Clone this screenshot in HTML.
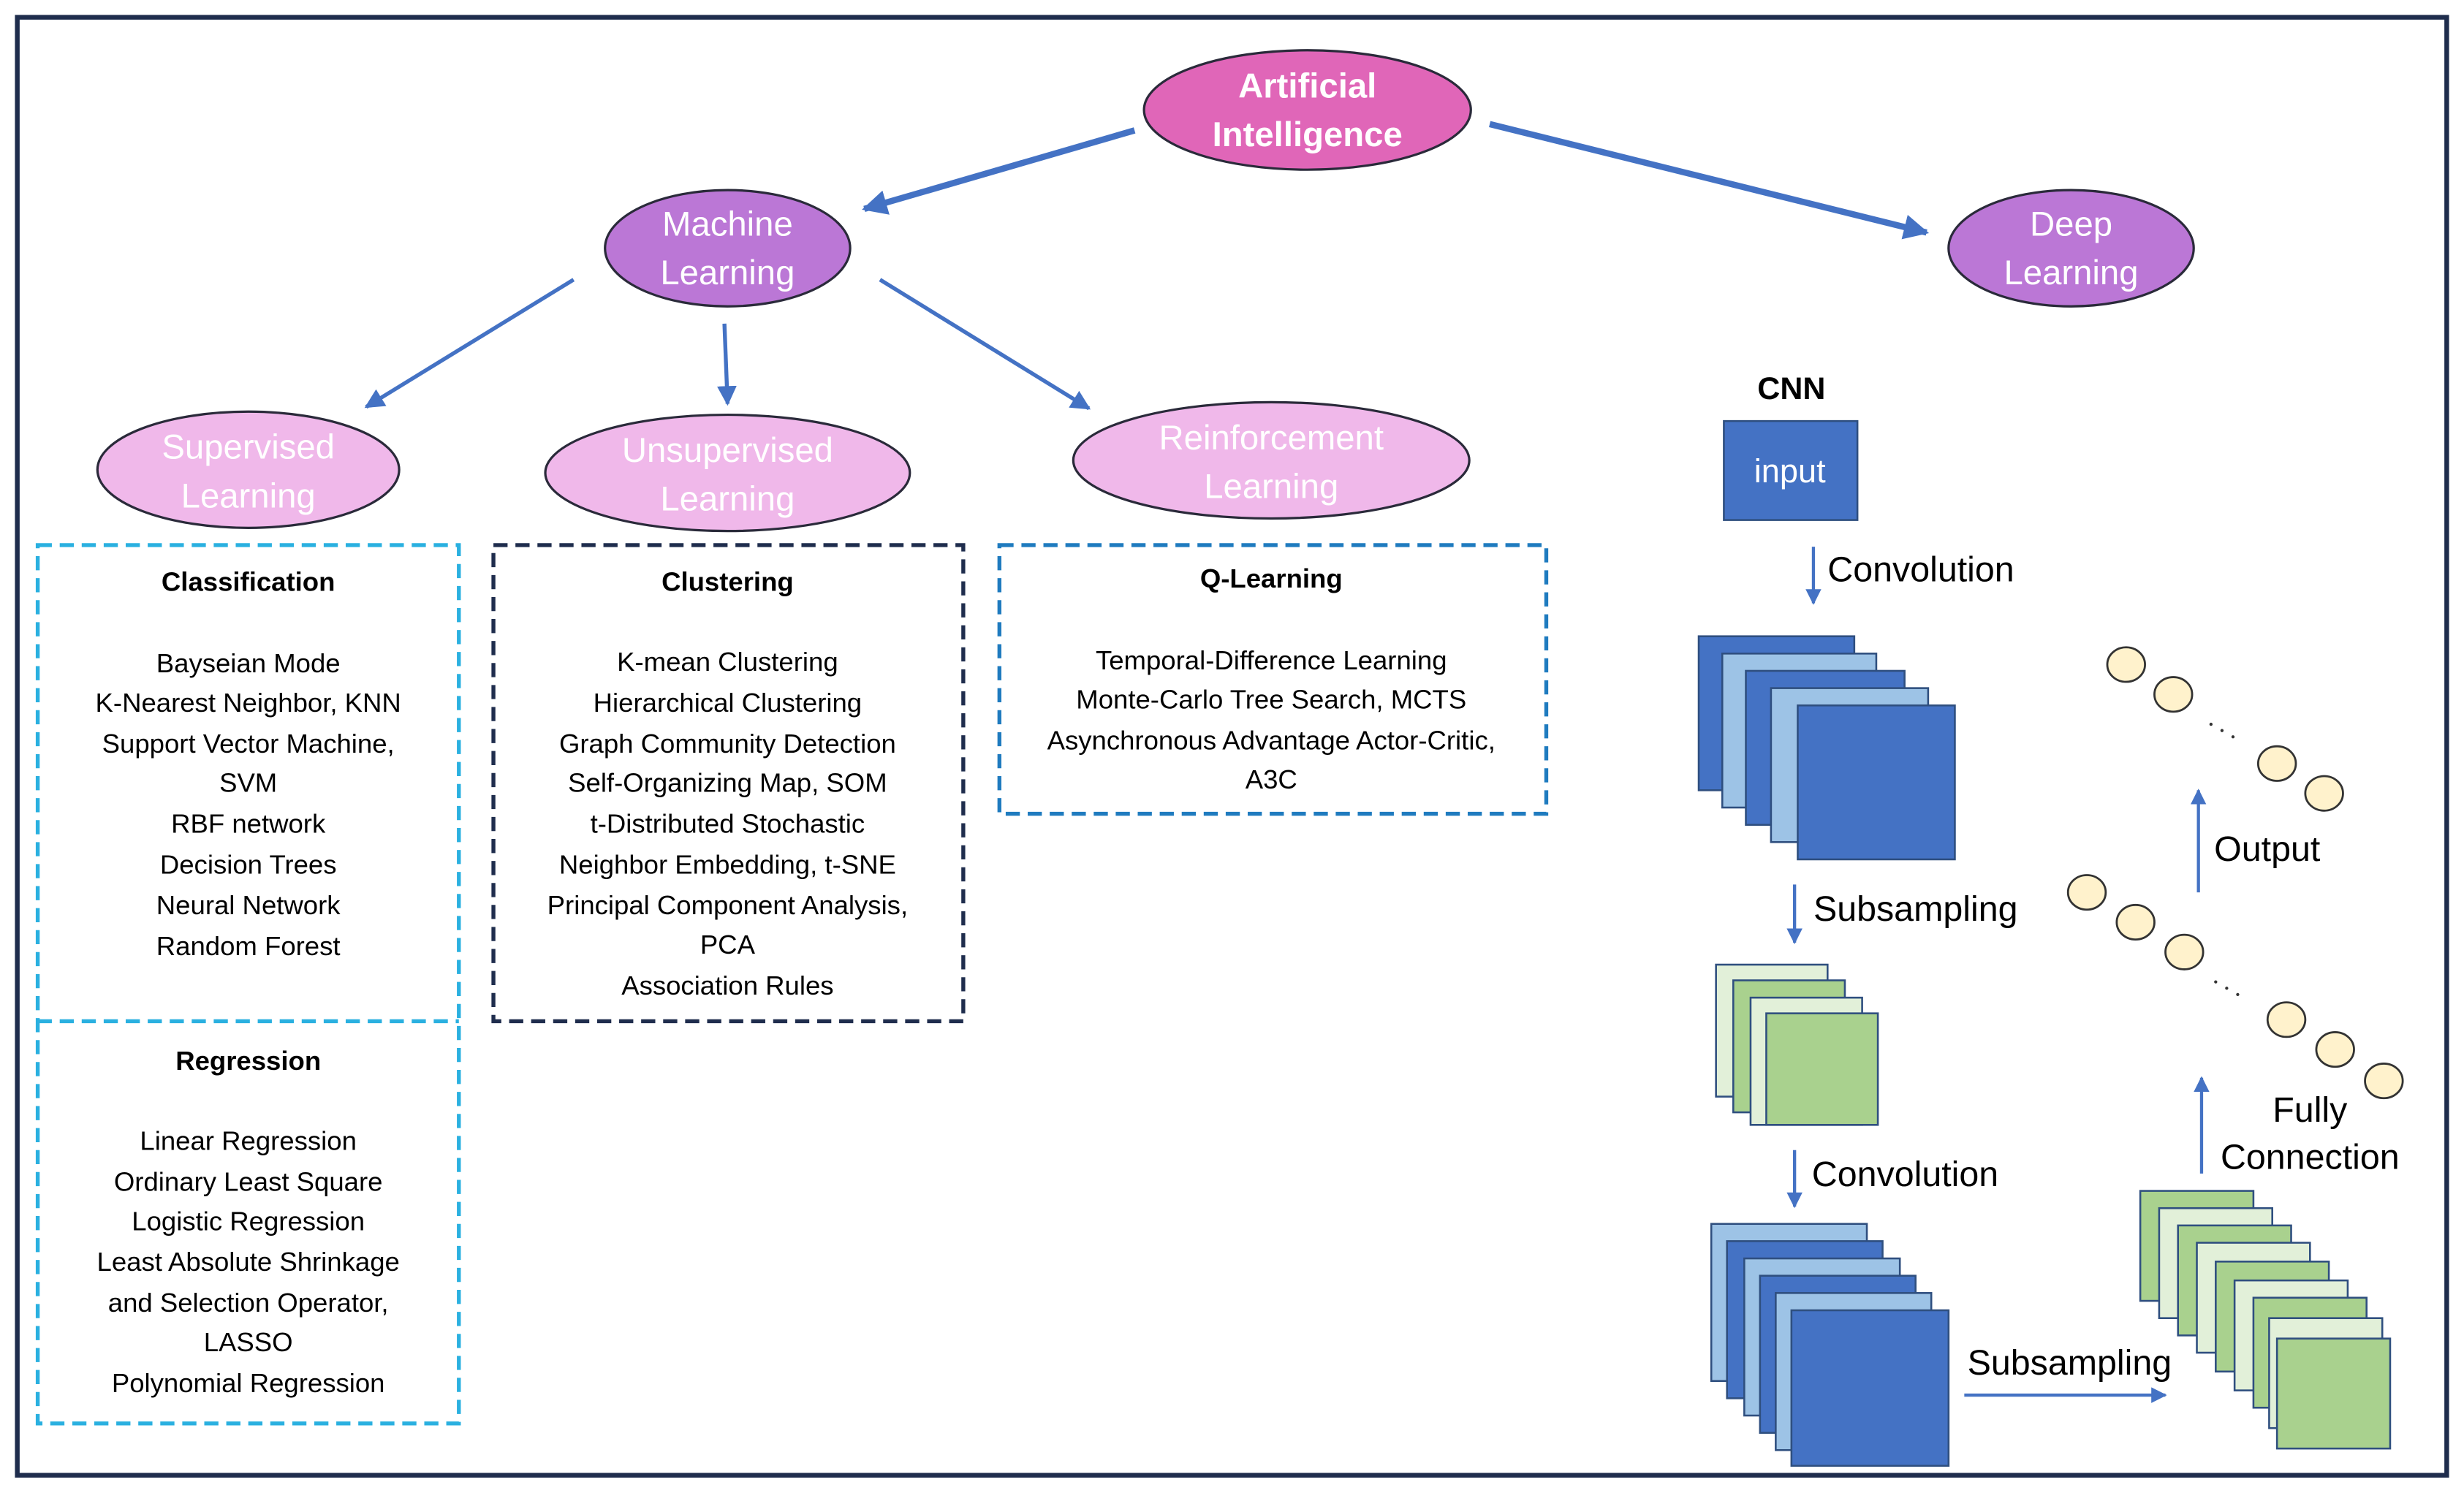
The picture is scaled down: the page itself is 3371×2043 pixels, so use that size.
<!DOCTYPE html>
<html><head><meta charset="utf-8"><style>
html,body{margin:0;padding:0;background:#fff}
svg{display:block}
text{font-family:"Liberation Sans",sans-serif}
</style></head><body>
<svg width="3371" height="2043" viewBox="0 0 1568 950.3" preserveAspectRatio="none" xmlns="http://www.w3.org/2000/svg">
<defs>
<marker id="ah" viewBox="0 0 10 10" refX="9" refY="5" markerWidth="4" markerHeight="4" orient="auto"><path d="M0,0L10,5L0,10z" fill="#4472c4"/></marker>
<marker id="as" viewBox="0 0 10 10" refX="9" refY="5" markerWidth="5" markerHeight="5" orient="auto"><path d="M0,0L10,5L0,10z" fill="#4472c4"/></marker>
</defs>
<rect x="0" y="0" width="1568" height="950.3" fill="#fff"/>
<rect x="11" y="11" width="1546" height="928" fill="none" stroke="#1f2d4d" stroke-width="3"/>

<g stroke="#4472c4" fill="none">
<line x1="722" y1="83" x2="550" y2="133" stroke-width="4" marker-end="url(#ah)"/>
<line x1="948" y1="79" x2="1226" y2="148" stroke-width="4" marker-end="url(#ah)"/>
<line x1="365" y1="178" x2="233" y2="259" stroke-width="2.5" marker-end="url(#as)"/>
<line x1="461" y1="206" x2="463" y2="257" stroke-width="2.5" marker-end="url(#as)"/>
<line x1="560" y1="178" x2="693" y2="260" stroke-width="2.5" marker-end="url(#as)"/>
</g>

<g stroke="#2a2a3a" stroke-width="1.5">
<ellipse cx="832" cy="70" rx="104" ry="38" fill="#e066b8"/>
<ellipse cx="463" cy="158" rx="78" ry="37" fill="#bb77d6"/>
<ellipse cx="1318" cy="158" rx="78" ry="37" fill="#bb77d6"/>
<ellipse cx="158" cy="299" rx="96" ry="37" fill="#f0b8ea"/>
<ellipse cx="463" cy="301" rx="116" ry="37" fill="#f0b8ea"/>
<ellipse cx="809" cy="293" rx="126" ry="37" fill="#f0b8ea"/>
</g>
<g fill="#fff" font-size="22" text-anchor="middle">
<text x="832" y="62" font-weight="bold">Artificial</text>
<text x="832" y="93" font-weight="bold">Intelligence</text>
<text x="463" y="150">Machine</text><text x="463" y="181">Learning</text>
<text x="1318" y="150">Deep</text><text x="1318" y="181">Learning</text>
<text x="158" y="292">Supervised</text><text x="158" y="323">Learning</text>
<text x="463" y="294">Unsupervised</text><text x="463" y="325">Learning</text>
<text x="809" y="286">Reinforcement</text><text x="809" y="317">Learning</text>
</g>

<g fill="none" stroke-width="2.5" stroke-dasharray="9,5">
<rect x="24" y="347" width="268" height="559" stroke="#2ab0e0"/>
<line x1="24" y1="650" x2="292" y2="650" stroke="#2ab0e0"/>
<rect x="314" y="347" width="299" height="303" stroke="#1f2d4d"/>
<rect x="636" y="347" width="348" height="171" stroke="#1f7bbf"/>
</g>
<g font-size="17" text-anchor="middle" fill="#000">
<text x="158" y="376" font-weight="bold">Classification</text>
<text x="158" y="428">Bayseian Mode</text>
<text x="158" y="453">K-Nearest Neighbor, KNN</text>
<text x="158" y="479">Support Vector Machine,</text>
<text x="158" y="504">SVM</text>
<text x="158" y="530">RBF network</text>
<text x="158" y="556">Decision Trees</text>
<text x="158" y="582">Neural Network</text>
<text x="158" y="608">Random Forest</text>
<text x="158" y="681" font-weight="bold">Regression</text>
<text x="158" y="732">Linear Regression</text>
<text x="158" y="758">Ordinary Least Square</text>
<text x="158" y="783">Logistic Regression</text>
<text x="158" y="809">Least Absolute Shrinkage</text>
<text x="158" y="835">and Selection Operator,</text>
<text x="158" y="860">LASSO</text>
<text x="158" y="886">Polynomial Regression</text>

<text x="463" y="376" font-weight="bold">Clustering</text>
<text x="463" y="427">K-mean Clustering</text>
<text x="463" y="453">Hierarchical Clustering</text>
<text x="463" y="479">Graph Community Detection</text>
<text x="463" y="504">Self-Organizing Map, SOM</text>
<text x="463" y="530">t-Distributed Stochastic</text>
<text x="463" y="556">Neighbor Embedding, t-SNE</text>
<text x="463" y="582">Principal Component Analysis,</text>
<text x="463" y="607">PCA</text>
<text x="463" y="633">Association Rules</text>

<text x="809" y="374" font-weight="bold">Q-Learning</text>
<text x="809" y="426">Temporal-Difference Learning</text>
<text x="809" y="451">Monte-Carlo Tree Search, MCTS</text>
<text x="809" y="477">Asynchronous  Advantage Actor-Critic,</text>
<text x="809" y="502">A3C</text>
</g>

<text x="1140" y="254" font-size="20" font-weight="bold" text-anchor="middle">CNN</text>
<rect x="1097" y="268" width="85" height="63" fill="#4472c4" stroke="#2f4f7f" stroke-width="1.2"/>
<text x="1139" y="307" font-size="21" fill="#fff" text-anchor="middle">input</text>

<g stroke="#4472c4" stroke-width="2" fill="none">
<line x1="1154" y1="348" x2="1154" y2="384" marker-end="url(#as)"/>
<line x1="1142" y1="563" x2="1142" y2="600" marker-end="url(#as)"/>
<line x1="1142" y1="732" x2="1142" y2="768" marker-end="url(#as)"/>
<line x1="1250" y1="888" x2="1378" y2="888" marker-end="url(#as)"/>
<line x1="1401" y1="747" x2="1401" y2="686" marker-end="url(#as)"/>
<line x1="1399" y1="568" x2="1399" y2="503" marker-end="url(#as)"/>
</g>
<g font-size="22.5" fill="#000">
<text x="1163" y="370">Convolution</text>
<text x="1154" y="586">Subsampling</text>
<text x="1153" y="755">Convolution</text>
<text x="1252" y="875">Subsampling</text>
<text x="1409" y="548">Output</text>
<text x="1470" y="714" text-anchor="middle">Fully</text>
<text x="1470" y="744" text-anchor="middle">Connection</text>
</g>

<g stroke="#2f4f7f" stroke-width="1.2">
<rect x="1081" y="405" width="99" height="98" fill="#4472c4"/>
<rect x="1096" y="416" width="98" height="98" fill="#9dc3e6"/>
<rect x="1111" y="427" width="101" height="98" fill="#4472c4"/>
<rect x="1127" y="438" width="100" height="98" fill="#9dc3e6"/>
<rect x="1144" y="449" width="100" height="98" fill="#4472c4"/>

<rect x="1092" y="614" width="71" height="84" fill="#e2f0d9"/>
<rect x="1103" y="624" width="71" height="84" fill="#a9d18e"/>
<rect x="1114" y="635" width="71" height="81" fill="#e2f0d9"/>
<rect x="1124" y="645" width="71" height="71" fill="#a9d18e"/>

<rect x="1089" y="779" width="99" height="100" fill="#9dc3e6"/>
<rect x="1099" y="790" width="99" height="100" fill="#4472c4"/>
<rect x="1110" y="801" width="99" height="100" fill="#9dc3e6"/>
<rect x="1120" y="812" width="99" height="100" fill="#4472c4"/>
<rect x="1130" y="823" width="99" height="100" fill="#9dc3e6"/>
<rect x="1140" y="834" width="100" height="99" fill="#4472c4"/>

<rect x="1362" y="758" width="72" height="70" fill="#a9d18e"/>
<rect x="1374" y="769" width="72" height="70" fill="#e2f0d9"/>
<rect x="1386" y="780" width="72" height="70" fill="#a9d18e"/>
<rect x="1398" y="791" width="72" height="70" fill="#e2f0d9"/>
<rect x="1410" y="803" width="72" height="70" fill="#a9d18e"/>
<rect x="1422" y="815" width="72" height="70" fill="#e2f0d9"/>
<rect x="1434" y="826" width="72" height="70" fill="#a9d18e"/>
<rect x="1444" y="839" width="72" height="70" fill="#e2f0d9"/>
<rect x="1449" y="852" width="72" height="70" fill="#a9d18e"/>
</g>

<g fill="#fff2cc" stroke="#333" stroke-width="1.3">
<ellipse cx="1353" cy="423" rx="12" ry="11"/>
<ellipse cx="1383" cy="442" rx="12" ry="11"/>
<ellipse cx="1449" cy="486" rx="12" ry="11"/>
<ellipse cx="1479" cy="505" rx="12" ry="11"/>
<ellipse cx="1328" cy="568" rx="12" ry="11"/>
<ellipse cx="1359" cy="587" rx="12" ry="11"/>
<ellipse cx="1390" cy="606" rx="12" ry="11"/>
<ellipse cx="1455" cy="649" rx="12" ry="11"/>
<ellipse cx="1486" cy="668" rx="12" ry="11"/>
<ellipse cx="1517" cy="688" rx="12" ry="11"/>
</g>
<g fill="#333">
<circle cx="1407" cy="461" r="1"/><circle cx="1414" cy="465" r="1"/><circle cx="1421" cy="469" r="1"/>
<circle cx="1410" cy="625" r="1"/><circle cx="1417" cy="629" r="1"/><circle cx="1424" cy="633" r="1"/>
</g>
</svg>
</body></html>
